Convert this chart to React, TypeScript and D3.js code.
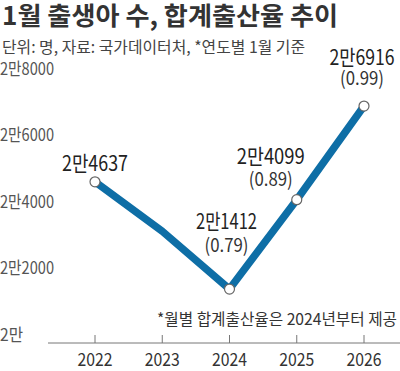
import React from "react";
import * as d3 from "d3";

const years = ["2022", "2023", "2024", "2025", "2026"];
const births = [24637, 23150, 21412, 24099, 26916];
const birthLabels = ["2만4637", "", "2만1412", "2만4099", "2만6916"];
const rateLabels = ["", "", "(0.79)", "(0.89)", "(0.99)"];
const yTicks = [20000, 22000, 24000, 26000, 28000];
const yTickLabels = ["2만", "2만2000", "2만4000", "2만6000", "2만8000"];

const FONT = "'Noto Sans CJK KR', 'Noto Sans', sans-serif";

export default function App() {
  const W = 400, H = 371;
  const x = d3.scalePoint<string>().domain(years).range([95, 364]);
  const y = d3.scaleLinear().domain([20000, 28000]).range([336, 70]);
  const line = d3
    .line<number>()
    .x((_, i) => x(years[i]) as number)
    .y((d) => y(d));

  // label placement (offsets relative to point)
  const numDy = [-11, 0, -60, -36, -41];
  const rateDy = [0, 0, -37, -14, -21];
  const numW = [66, 0, 61, 68, 65];
  const numDx = [0, 0, -3, -26, -2];

  return (
    <svg width={W} height={H} style={{ position: "absolute", left: 0, top: 0 }} fontFamily={FONT}>
      <rect width={W} height={H} fill="#fff" />
      <text x={2} y={25} fontSize={25} fontWeight="bold" fill="#333" textLength={336} lengthAdjust="spacingAndGlyphs">
        1월 출생아 수, 합계출산율 추이
      </text>
      <text x={2} y={53} fontSize={16} fill="#444" textLength={303} lengthAdjust="spacingAndGlyphs">
        단위: 명, 자료: 국가데이터처, *연도별 1월 기준
      </text>
      {yTicks.map((t, i) => (
        <text key={t} x={0} y={y(t) - 3} dominantBaseline="central" fontSize={17} fill="#555"
          textLength={i === 0 ? 23 : 54} lengthAdjust="spacingAndGlyphs">
          {yTickLabels[i]}
        </text>
      ))}
      <line x1={48} x2={400} y1={343} y2={343} stroke="#777" strokeWidth={1} />
      {years.map((yr) => (
        <g key={yr}>
          <line x1={x(yr)} x2={x(yr)} y1={335} y2={343} stroke="#777" strokeWidth={1} />
          <text x={x(yr)} y={366} textAnchor="middle" fontSize={18} fill="#333" textLength={35} lengthAdjust="spacingAndGlyphs">
            {yr}
          </text>
        </g>
      ))}
      <text x={397} y={325} textAnchor="end" fontSize={16} fill="#333" textLength={240} lengthAdjust="spacingAndGlyphs">
        *월별 합계출산율은 2024년부터 제공
      </text>
      <path d={line(births) || ""} fill="none" stroke="#0e6ea6" strokeWidth={7.5} strokeLinejoin="round" />
      {births.map((v, i) =>
        i === 1 ? null : (
          <circle key={i} cx={x(years[i])} cy={y(v)} r={5} fill="#fff" stroke="#666" strokeWidth={1.2} />
        )
      )}
      {births.map((v, i) =>
        birthLabels[i] ? (
          <g key={"l" + i}>
            <text x={(x(years[i]) as number) + numDx[i]} y={y(v) + numDy[i]} textAnchor="middle" fontSize={21}
              fill="#222" textLength={numW[i]} lengthAdjust="spacingAndGlyphs">
              {birthLabels[i]}
            </text>
            {rateLabels[i] ? (
              <text x={(x(years[i]) as number) + numDx[i]} y={y(v) + rateDy[i]} textAnchor="middle" fontSize={19}
                fill="#333" textLength={44} lengthAdjust="spacingAndGlyphs">
                {rateLabels[i]}
              </text>
            ) : null}
          </g>
        ) : null
      )}
    </svg>
  );
}
